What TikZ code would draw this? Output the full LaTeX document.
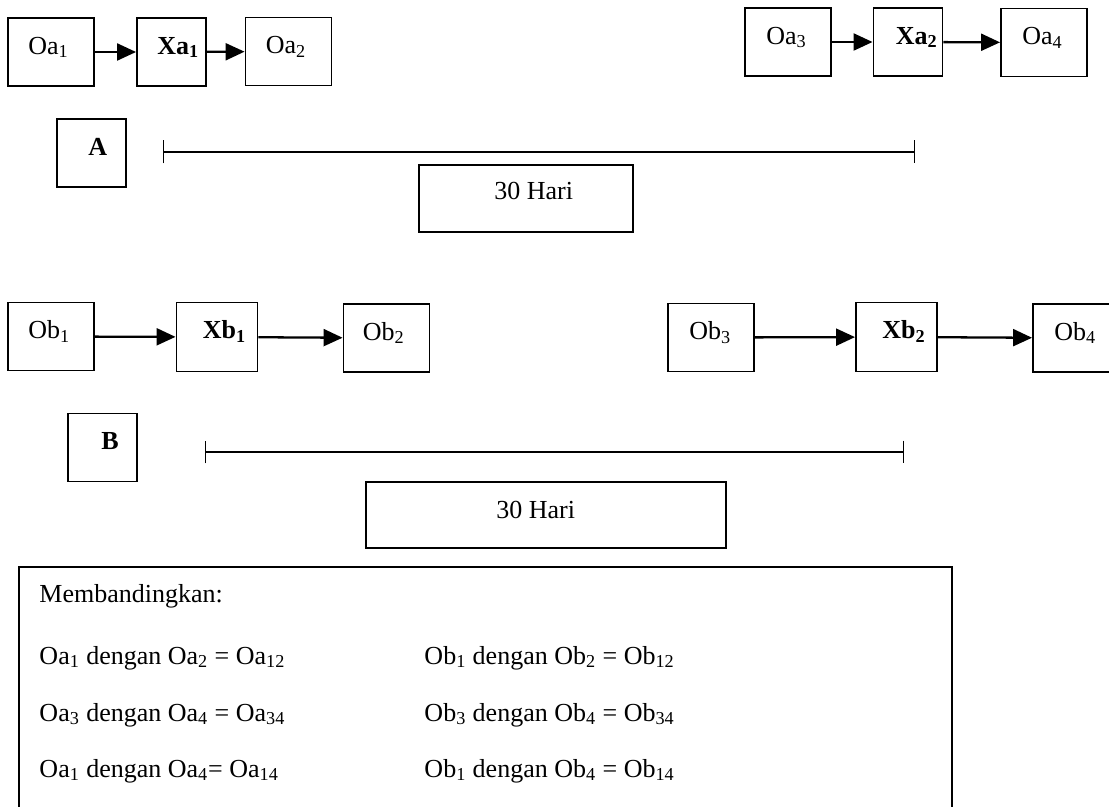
\documentclass[tikz,border=0pt]{standalone}
\usepackage{fontspec}
\setmainfont{Liberation Serif}
\usepackage{tikz}
\usetikzlibrary{positioning,calc,arrows.meta}

\begin{document}
\begin{tikzpicture}[
        x=0.02cm, y=-0.02cm,
        font=\fontsize{14.8}{17.8}\selectfont,
        box/.style={draw, line width=1.1pt, inner sep=0pt},
        obox/.style={box, minimum width=1.72cm, minimum height=1.36cm},
        xabox/.style={box, minimum width=1.38cm, minimum height=1.36cm},
        xbbox/.style={box, minimum width=1.62cm, minimum height=1.38cm},
        grpbox/.style={box, minimum width=1.38cm, minimum height=1.36cm},
        lbl/.style={anchor=base west, inner sep=0pt},
        arr/.style={-{Triangle[length=0.38cm, width=0.34cm]}, line width=1.3pt},
        span/.style={{Bar[width=0.46cm]}-{Bar[width=0.46cm]}, line width=0.7pt}
    ]

    \useasboundingbox (0,0) rectangle (1109,807);
    \fill[white] (0,0) rectangle (1109,807);

    % Group A, first measurement
    \node[obox] (oa1) at (51,52) {};
    \node[lbl] (oa1-t) at ($(oa1.north west) + (21,37)$) {Oa\textsubscript{1}};
    \node[xabox] (xa1) at (171.5,52) {};
    \node[lbl] (xa1-t) at ($(xa1.north west) + (21,37)$) {\textbf{Xa\textsubscript{1}}};
    \node[obox] (oa2) at (288.5,51.5) {};
    \node[lbl] (oa2-t) at ($(oa2.north west) + (21,37)$) {Oa\textsubscript{2}};

    % Group A, second measurement
    \node[obox] (oa3) at (788,42) {};
    \node[lbl] (oa3-t) at ($(oa3.north west) + (22,37)$) {Oa\textsubscript{3}};
    \node[xabox] (xa2) at (908,42) {};
    \node[lbl] (xa2-t) at ($(xa2.north west) + (23,37)$) {\textbf{Xa\textsubscript{2}}};
    \node[obox] (oa4) at (1044,42.5) {};
    \node[lbl] (oa4-t) at ($(oa4.north west) + (22,37)$) {Oa\textsubscript{4}};

    \draw[arr] (oa1) -- (xa1);
    \draw[arr] (xa1) -- (oa2);
    \draw[arr] (oa3) -- (xa2);
    \draw[arr] (xa2) -- (oa4);

    % Label A and time span
    \node[grpbox] (grpA) at (91.5,153) {};
    \node[lbl] (grpA-t) at ($(grpA.north west) + (32,37)$) {\textbf{A}};
    \coordinate (ta0) at (163,152);
    \coordinate (ta1) at (915,152);
    \draw[span] (ta0) -- (ta1);
    \node[box, minimum width=4.28cm, minimum height=1.34cm] (hariA) at (526,198.5) {};
    \node[lbl] (hariA-t) at ($(hariA.north west) + (76,35)$) {30 Hari};

    % Group B, first measurement
    \node[obox] (ob1) at (51,336.5) {};
    \node[lbl] (ob1-t) at ($(ob1.north west) + (21,37)$) {Ob\textsubscript{1}};
    \node[xbbox] (xb1) at (217,337) {};
    \node[lbl] (xb1-t) at ($(xb1.north west) + (27,37)$) {\textbf{Xb\textsubscript{1}}};
    \node[obox] (ob2) at (386.5,338) {};
    \node[lbl] (ob2-t) at ($(ob2.north west) + (20,37)$) {Ob\textsubscript{2}};

    % Group B, second measurement
    \node[obox] (ob3) at (711,337.5) {};
    \node[lbl] (ob3-t) at ($(ob3.north west) + (22,37)$) {Ob\textsubscript{3}};
    \node[xbbox] (xb2) at (896.5,337) {};
    \node[lbl] (xb2-t) at ($(xb2.north west) + (27,37)$) {\textbf{Xb\textsubscript{2}}};
    \node[obox] (ob4) at (1076,338) {};
    \node[lbl] (ob4-t) at ($(ob4.north west) + (22,37)$) {Ob\textsubscript{4}};

    \draw[arr] (ob1) -- (xb1);
    \draw[arr] (xb1) -- (ob2);
    \draw[arr] (ob3) -- (xb2);
    \draw[arr] (xb2) -- (ob4);

    % Label B and time span
    \node[grpbox] (grpB) at (102.5,447.5) {};
    \node[lbl] (grpB-t) at ($(grpB.north west) + (34,37)$) {\textbf{B}};
    \coordinate (tb0) at (205,452);
    \coordinate (tb1) at (904,452);
    \draw[span] (tb0) -- (tb1);
    \node[box, minimum width=7.2cm, minimum height=1.32cm] (hariB) at (546,515) {};
    \node[lbl] (hariB-t) at ($(hariB.north west) + (131,37)$) {30 Hari};

    % Comparison box
    \node[box, minimum width=18.66cm, minimum height=5.46cm] (cmp) at (485.5,703.5) {};
    \node[lbl] (cmp-t) at ($(cmp.north west) + (21,36)$) {Membandingkan:};
    \node[lbl] (ca1) at ($(cmp.north west) + (21,98)$) {Oa\textsubscript{1} dengan Oa\textsubscript{2} = Oa\textsubscript{12}};
    \node[lbl] (ca2) at ($(cmp.north west) + (21,155)$) {Oa\textsubscript{3} dengan Oa\textsubscript{4} = Oa\textsubscript{34}};
    \node[lbl] (ca3) at ($(cmp.north west) + (21,211)$) {Oa\textsubscript{1} dengan Oa\textsubscript{4}= Oa\textsubscript{14}};
    \node[lbl] (cb1) at ($(cmp.north west) + (406,98)$) {Ob\textsubscript{1} dengan Ob\textsubscript{2} = Ob\textsubscript{12}};
    \node[lbl] (cb2) at ($(cmp.north west) + (406,155)$) {Ob\textsubscript{3} dengan Ob\textsubscript{4} = Ob\textsubscript{34}};
    \node[lbl] (cb3) at ($(cmp.north west) + (406,211)$) {Ob\textsubscript{1} dengan Ob\textsubscript{4} = Ob\textsubscript{14}};

\end{tikzpicture}
\end{document}
